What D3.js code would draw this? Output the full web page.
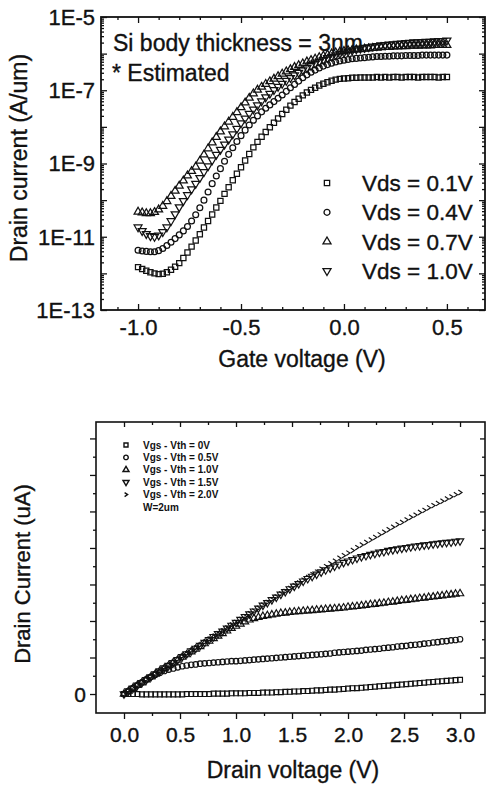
<!DOCTYPE html>
<html>
<head>
<meta charset="utf-8">
<script src="https://cdn.jsdelivr.net/npm/d3@7/dist/d3.min.js"></script>
<style>
  html, body { margin: 0; padding: 0; background: #fff; }
  svg { display: block; }
  text { font-family: "Liberation Sans", Arial, Helvetica, sans-serif; fill: #111; }
  text.heavy { stroke: #111; stroke-width: 0.35px; }
</style>
</head>
<body>
<svg id="chart" width="488" height="788"></svg>
<script>
// ---------------- Data: top panel (Id-Vg, log10 of A/um) ----------------
const gateVoltage = [-1.00,-0.98,-0.96,-0.94,-0.92,-0.90,-0.88,-0.86,-0.84,-0.82,-0.80,-0.78,-0.76,-0.74,-0.72,-0.70,-0.68,-0.66,-0.64,-0.62,-0.60,-0.58,-0.56,-0.54,-0.52,
  -0.50,-0.48,-0.46,-0.44,-0.42,-0.40,-0.38,-0.36,-0.34,-0.32,-0.30,-0.28,-0.26,-0.24,-0.22,-0.20,-0.18,-0.16,-0.14,-0.12,-0.10,-0.08,-0.06,-0.04,-0.02,
  0.00,0.02,0.04,0.06,0.08,0.10,0.12,0.14,0.16,0.18,0.20,0.22,0.24,0.26,0.28,0.30,0.32,0.34,0.36,0.38,0.40,0.42,0.44,0.46,0.48,0.50];

const logIdVds01 = [-11.83,-11.88,-11.93,-11.97,-12.00, -12.02,-12.01,-11.97,-11.90,-11.82, -11.72,-11.58,-11.43,-11.27,-11.10,
  -10.93,-10.75,-10.57,-10.39,-10.20, -10.02,-9.83,-9.65,-9.46,-9.28, -9.10,-8.92,-8.74,-8.56,-8.41, -8.27,-8.14,-8.01,-7.89,-7.77,
  -7.65,-7.53,-7.42,-7.32,-7.23, -7.14,-7.06,-6.99,-6.93,-6.87, -6.82,-6.78,-6.74,-6.71,-6.69, -6.68,-6.67,-6.66,-6.66,-6.65,
  -6.65,-6.65,-6.65,-6.64,-6.65, -6.64,-6.65,-6.64,-6.64,-6.65, -6.64,-6.64,-6.64,-6.65,-6.64, -6.64,-6.64,-6.64,-6.65,-6.64, -6.64];

const logIdVds04 = [-11.37,-11.39,-11.40,-11.41,-11.41, -11.38,-11.32,-11.24,-11.15,-11.05, -10.95,-10.84,-10.72,-10.57,-10.40,
  -10.21,-10.00,-9.78,-9.55,-9.34, -9.14,-8.94,-8.75,-8.57,-8.40, -8.24,-8.09,-7.95,-7.82,-7.70, -7.59,-7.49,-7.40,-7.31,-7.22,
  -7.13,-7.03,-6.93,-6.84,-6.75, -6.66,-6.58,-6.51,-6.45,-6.39, -6.34,-6.30,-6.26,-6.23,-6.20, -6.18,-6.16,-6.14,-6.13,-6.12,
  -6.11,-6.10,-6.09,-6.08,-6.08, -6.07,-6.07,-6.06,-6.06,-6.06, -6.05,-6.05,-6.05,-6.05,-6.04, -6.04,-6.04,-6.04,-6.04,-6.04, -6.04];

const logIdVds07 = [-10.32,-10.34,-10.36,-10.36,-10.33, -10.26,-10.16,-10.03,-9.89,-9.75, -9.61,-9.47,-9.33,-9.21,-9.09,
  -8.93,-8.76,-8.59,-8.43,-8.28, -8.13,-7.99,-7.86,-7.73,-7.60, -7.47,-7.34,-7.21,-7.09,-6.99, -6.91,-6.83,-6.76,-6.69,-6.62,
  -6.55,-6.49,-6.43,-6.37,-6.32, -6.27,-6.22,-6.18,-6.14,-6.10, -6.06,-6.03,-6.00,-5.97,-5.95, -5.93,-5.91,-5.90,-5.89,-5.88,
  -5.87,-5.86,-5.85,-5.84,-5.83, -5.82,-5.82,-5.81,-5.81,-5.80, -5.80,-5.79,-5.79,-5.79,-5.78, -5.78,-5.78,-5.77,-5.77,-5.77, -5.77];

const logIdVds10 = [-10.74,-10.84,-10.92,-10.98,-11.00, -10.96,-10.87,-10.74,-10.57,-10.38, -10.19,-10.02,-9.86,-9.70,-9.55,
  -9.39,-9.23,-9.07,-8.91,-8.76, -8.62,-8.48,-8.34,-8.20,-8.05, -7.90,-7.77,-7.64,-7.52,-7.41, -7.30,-7.19,-7.09,-6.99,-6.90,
  -6.82,-6.74,-6.66,-6.59,-6.52, -6.45,-6.39,-6.33,-6.27,-6.22, -6.17,-6.12,-6.08,-6.04,-6.00, -5.97,-5.94,-5.91,-5.88,-5.86,
  -5.84,-5.82,-5.80,-5.79,-5.77, -5.76,-5.75,-5.74,-5.73,-5.72, -5.71,-5.70,-5.69,-5.69,-5.68, -5.67,-5.67,-5.66,-5.65,-5.65, -5.64];

const topSeriesLabels = ["Vds = 0.1V", "Vds = 0.4V", "Vds = 0.7V", "Vds = 1.0V"];
const topYTickExponents = [-5, -7, -9, -11, -13];
const topXTicks = [-1.0, -0.5, 0.0, 0.5];
const topNote = ["Si body thickness = 3nm", "* Estimated"];

// ---------------- Data: bottom panel (Id-Vd, uA) ----------------
const drainVoltage = [0.00,0.04,0.08,0.12,0.16,0.20,0.24,0.28,0.32,0.36,0.40,0.44,0.48,0.52,0.56,0.60,0.64,0.68,0.72,0.76,
  0.80,0.84,0.88,0.92,0.96,1.00,1.04,1.08,1.12,1.16,1.20,1.24,1.28,1.32,1.36,1.40,1.44,1.48,1.52,1.56,
  1.60,1.64,1.68,1.72,1.76,1.80,1.84,1.88,1.92,1.96,2.00,2.04,2.08,2.12,2.16,2.20,2.24,2.28,2.32,2.36,
  2.40,2.44,2.48,2.52,2.56,2.60,2.64,2.68,2.72,2.76,2.80,2.84,2.88,2.92,2.96,3.00];

const idOv0 = [0.0,0.0,0.0,0.0,-0.1, -0.1,-0.1,-0.1,-0.1,-0.1, -0.1,-0.1,-0.1,-0.1,0.0, 0.0,0.0,0.0,0.0,0.0,
  0.1,0.1,0.1,0.1,0.2, 0.2,0.2,0.2,0.3,0.3, 0.3,0.4,0.4,0.4,0.5, 0.5,0.6,0.6,0.7,0.7, 0.8,0.8,0.9,1.0,1.0,
  1.1,1.2,1.2,1.3,1.4, 1.5,1.6,1.6,1.7,1.8, 1.9,2.0,2.1,2.2,2.3, 2.4,2.5,2.6,2.7,2.8, 2.9,3.0,3.1,3.2,3.3,
  3.4,3.5,3.6,3.7,3.8, 3.9];

const idOv05 = [0.0,0.8,1.6,2.4,3.2, 4.0,4.7,5.3,5.8,6.3, 6.7,7.0,7.3,7.6,7.8, 8.0,8.1,8.3,8.4,8.5,
  8.6,8.7,8.8,8.9,9.0, 9.0,9.1,9.2,9.3,9.4, 9.5,9.6,9.7,9.8,9.9, 10.0,10.1,10.2,10.3,10.4, 10.5,10.6,10.7,10.8,10.9,
  11.0,11.1,11.3,11.4,11.5, 11.6,11.7,11.8,11.9,12.1, 12.2,12.3,12.4,12.6,12.7, 12.8,13.0,13.1,13.2,13.4,
  13.5,13.6,13.8,13.9,14.1, 14.2,14.4,14.5,14.7,14.8, 15.0];

const idOv10 = [0.0,0.8,1.6,2.4,3.1, 3.9,4.7,5.5,6.3,7.0, 7.8,8.6,9.3,10.1,10.8, 11.6,12.3,13.0,13.8,14.5,
  15.2,15.9,16.6,17.3,18.0, 18.6,19.2,19.8,20.3,20.7, 21.0,21.3,21.5,21.7,21.9, 22.1,22.2,22.4,22.5,22.6,
  22.7,22.8,22.9,23.0,23.1, 23.2,23.3,23.4,23.5,23.6, 23.8,23.9,24.0,24.2,24.3, 24.5,24.6,24.8,24.9,25.1,
  25.2,25.4,25.6,25.7,25.9, 26.0,26.2,26.3,26.5,26.6, 26.8,26.9,27.1,27.2,27.4, 27.5];

const idOv15 = [0.0,0.8,1.6,2.4,3.1, 3.9,4.7,5.5,6.3,7.1, 7.8,8.6,9.4,10.2,11.0, 11.8,12.5,13.3,14.1,14.9,
  15.7,16.5,17.2,18.0,18.8, 19.6,20.4,21.2,21.9,22.7, 23.5,24.3,25.0,25.8,26.5, 27.3,28.0,28.8,29.5,30.2,
  30.9,31.6,32.2,32.8,33.4, 34.0,34.5,35.0,35.5,36.0, 36.4,36.8,37.2,37.6,37.9, 38.2,38.5,38.8,39.0,39.3,
  39.5,39.7,39.9,40.1,40.3, 40.5,40.6,40.8,40.9,41.1, 41.2,41.4,41.5,41.6,41.8, 41.9];

const idOv20 = [0.0,0.8,1.6,2.4,3.2, 4.0,4.7,5.5,6.3,7.1, 7.9,8.7,9.5,10.3,11.0, 11.8,12.6,13.4,14.2,15.0,
  15.8,16.5,17.3,18.1,18.9, 19.6,20.4,21.2,22.0,22.7, 23.5,24.3,25.1,25.8,26.6, 27.4,28.1,28.9,29.7,30.4,
  31.2,31.9,32.7,33.4,34.2, 34.9,35.7,36.4,37.2,37.9, 38.6,39.3,40.1,40.8,41.5, 42.2,42.9,43.6,44.3,45.0,
  45.7,46.4,47.0,47.7,48.4, 49.0,49.7,50.3,51.0,51.6, 52.2,52.8,53.4,54.0,54.6, 55.2];

const bottomSeriesLabels = ["Vgs - Vth = 0V", "Vgs - Vth = 0.5V", "Vgs - Vth = 1.0V", "Vgs - Vth = 1.5V", "Vgs - Vth = 2.0V"];
const bottomNote = "W=2um";
const bottomXTicks = [0.0, 0.5, 1.0, 1.5, 2.0, 2.5, 3.0];
const bottomYLabelTicks = [0];

// ---------------- Drawing ----------------
(function () {
const svg = d3.select("#chart");

const symDown = { draw(ctx, size) {
  const s = Math.sqrt(size / (Math.sqrt(3) / 4)); const h = s * Math.sqrt(3) / 2;
  ctx.moveTo(0, h * 2 / 3); ctx.lineTo(s / 2, -h / 3); ctx.lineTo(-s / 2, -h / 3); ctx.closePath(); } };
const symUp = { draw(ctx, size) {
  const s = Math.sqrt(size / (Math.sqrt(3) / 4)); const h = s * Math.sqrt(3) / 2;
  ctx.moveTo(0, -h * 2 / 3); ctx.lineTo(s / 2, h / 3); ctx.lineTo(-s / 2, h / 3); ctx.closePath(); } };
const symChevron = { draw(ctx, size) {
  const r = Math.sqrt(size) / 2;
  ctx.moveTo(-r * 0.7, -r); ctx.lineTo(r * 0.8, 0); ctx.lineTo(-r * 0.7, r); } };
const symbolTypes = [d3.symbolSquare, d3.symbolCircle, symUp, symDown, symChevron];

function drawMarkers(g, xs, ys, xScale, yScale, type, size, sw) {
  const gen = d3.symbol().type(type).size(size);
  g.append("g").selectAll("path").data(xs.map((x, i) => [x, ys[i]])).join("path")
    .attr("d", gen)
    .attr("transform", d => `translate(${xScale(d[0])},${yScale(d[1])})`)
    .attr("fill", "none").attr("stroke", "#111").attr("stroke-width", sw);
}
function styleAxis(g) {
  g.select(".domain").remove();
  g.selectAll("line").attr("stroke", "#111").attr("stroke-width", 1.3);
}

// ===== Top panel =====
const T = { left: 101, right: 485, top: 17, bottom: 310 };
const xTop = d3.scaleLinear().domain([-1.18, 0.685]).range([T.left, T.right]);
const yTop = d3.scaleLog().domain([1e-13, 1e-5]).range([T.bottom, T.top]);
const gTop = svg.append("g");

const topMinorX = d3.range(-11, 7).map(d => d / 10).filter(d => Math.abs(d * 2 - Math.round(d * 2)) > 1e-6);
const decades = d3.range(-13, -4).map(e => Math.pow(10, e));
const logMinor = [];
d3.range(-13, -5).forEach(e => { for (let k = 2; k <= 9; k++) logMinor.push(k * Math.pow(10, e)); });

gTop.append("g").attr("transform", `translate(0,${T.bottom})`)
  .call(d3.axisBottom(xTop).tickValues(topXTicks).tickSize(-6).tickFormat(d => d.toFixed(1)))
  .call(styleAxis)
  .call(g => g.selectAll("text").attr("class", "heavy").attr("y", 25).attr("dy", 0).attr("font-size", 22).attr("fill", "#111"));
gTop.append("g").attr("transform", `translate(0,${T.bottom})`)
  .call(d3.axisBottom(xTop).tickValues(topMinorX).tickSize(-3).tickFormat(""))
  .call(styleAxis);
gTop.append("g").attr("transform", `translate(0,${T.top})`)
  .call(d3.axisTop(xTop).tickValues(topXTicks).tickSize(-6).tickFormat(""))
  .call(styleAxis);
gTop.append("g").attr("transform", `translate(0,${T.top})`)
  .call(d3.axisTop(xTop).tickValues(topMinorX).tickSize(-3).tickFormat(""))
  .call(styleAxis);

gTop.append("g").attr("transform", `translate(${T.left},0)`)
  .call(d3.axisLeft(yTop).tickValues(decades).tickSize(-6)
    .tickFormat(d => { const e = Math.round(Math.log10(d)); return topYTickExponents.includes(e) ? "1E" + e : ""; }))
  .call(styleAxis)
  .call(g => g.selectAll("text").attr("class", "heavy").attr("x", -6).attr("dy", "0.33em").attr("font-size", 22).attr("fill", "#111"));
gTop.append("g").attr("transform", `translate(${T.left},0)`)
  .call(d3.axisLeft(yTop).tickValues(logMinor).tickSize(-3).tickFormat(""))
  .call(styleAxis);
gTop.append("g").attr("transform", `translate(${T.right},0)`)
  .call(d3.axisRight(yTop).tickValues(decades).tickSize(-6).tickFormat(""))
  .call(styleAxis);
gTop.append("g").attr("transform", `translate(${T.right},0)`)
  .call(d3.axisRight(yTop).tickValues(logMinor).tickSize(-3).tickFormat(""))
  .call(styleAxis);

gTop.append("rect").attr("x", T.left).attr("y", T.top).attr("width", T.right - T.left).attr("height", T.bottom - T.top)
  .attr("fill", "none").attr("stroke", "#111").attr("stroke-width", 1.8);

const yTopLog = v => yTop(Math.pow(10, v));
const topSeries = [logIdVds01, logIdVds04, logIdVds07, logIdVds10];
topSeries.forEach((s, i) => drawMarkers(gTop, gateVoltage, s, xTop, yTopLog, symbolTypes[i], 27, 1.25));

gTop.append("text").attr("class", "heavy").attr("x", 113).attr("y", 51).attr("font-size", 23).text(topNote[0]);
gTop.append("text").attr("class", "heavy").attr("x", 112).attr("y", 81).attr("font-size", 23).text(topNote[1]);

topSeriesLabels.forEach((lab, i) => {
  const cy = 183 + i * 29.3;
  gTop.append("path").attr("d", d3.symbol().type(symbolTypes[i]).size(28))
    .attr("transform", `translate(327,${cy})`).attr("fill", "none").attr("stroke", "#111").attr("stroke-width", 1.3);
  gTop.append("text").attr("class", "heavy").attr("x", 362).attr("y", cy + 8).attr("font-size", 22.5).text(lab);
});

gTop.append("text").attr("class", "heavy").attr("x", 302).attr("y", 367).attr("text-anchor", "middle").attr("font-size", 23).text("Gate voltage (V)");
gTop.append("text").attr("class", "heavy").attr("transform", "translate(27,158) rotate(-90)").attr("text-anchor", "middle")
  .attr("font-size", 23).text("Drain current (A/um)");

// ===== Bottom panel =====
const B = { left: 96, right: 485, top: 422, bottom: 713 };
const xBot = d3.scaleLinear().domain([-0.25, 3.223]).range([B.left, B.right]);
const yBot = d3.scaleLinear().domain([-5.2, 74.5]).range([B.bottom, B.top]);
const gBot = svg.append("g");

const botMinorX = [0.25, 0.75, 1.25, 1.75, 2.25, 2.75];
const botMajorY = d3.range(0, 71, 10);
const botMinorY = d3.range(5, 75, 10);

gBot.append("g").attr("transform", `translate(0,${B.bottom})`)
  .call(d3.axisBottom(xBot).tickValues(bottomXTicks).tickSize(6).tickFormat(d => d.toFixed(1)))
  .call(styleAxis)
  .call(g => g.selectAll("text").attr("class", "heavy").attr("y", 29).attr("dy", 0).attr("font-size", 21).attr("fill", "#111"));
gBot.append("g").attr("transform", `translate(0,${B.bottom})`)
  .call(d3.axisBottom(xBot).tickValues(botMinorX).tickSize(3).tickFormat("")).call(styleAxis);
gBot.append("g").attr("transform", `translate(0,${B.top})`)
  .call(d3.axisTop(xBot).tickValues(bottomXTicks).tickSize(-5).tickFormat("")).call(styleAxis);
gBot.append("g").attr("transform", `translate(0,${B.top})`)
  .call(d3.axisTop(xBot).tickValues(botMinorX).tickSize(-3).tickFormat("")).call(styleAxis);

gBot.append("g").attr("transform", `translate(${B.left},0)`)
  .call(d3.axisLeft(yBot).tickValues(botMajorY).tickSize(6).tickFormat(d => bottomYLabelTicks.includes(d) ? String(d) : ""))
  .call(styleAxis)
  .call(g => g.selectAll("text").attr("class", "heavy").attr("x", -10).attr("dy", "0.35em").attr("font-size", 21).attr("fill", "#111"));
gBot.append("g").attr("transform", `translate(${B.left},0)`)
  .call(d3.axisLeft(yBot).tickValues(botMinorY).tickSize(3).tickFormat("")).call(styleAxis);
gBot.append("g").attr("transform", `translate(${B.right},0)`)
  .call(d3.axisRight(yBot).tickValues(botMajorY).tickSize(-5).tickFormat("")).call(styleAxis);
gBot.append("g").attr("transform", `translate(${B.right},0)`)
  .call(d3.axisRight(yBot).tickValues(botMinorY).tickSize(-3).tickFormat("")).call(styleAxis);

gBot.append("rect").attr("x", B.left).attr("y", B.top).attr("width", B.right - B.left).attr("height", B.bottom - B.top)
  .attr("fill", "none").attr("stroke", "#111").attr("stroke-width", 1.6);

const botSeries = [idOv0, idOv05, idOv10, idOv15, idOv20];
botSeries.forEach((s, i) => drawMarkers(gBot, drainVoltage, s, xBot, yBot, symbolTypes[i], 24, 1.15));

bottomSeriesLabels.forEach((lab, i) => {
  const cy = 445 + i * 12.4;
  gBot.append("path").attr("d", d3.symbol().type(symbolTypes[i]).size(16))
    .attr("transform", `translate(126,${cy})`).attr("fill", "none").attr("stroke", "#111").attr("stroke-width", 1.4);
  gBot.append("text").attr("x", 143).attr("y", cy + 3.6).attr("font-size", 10).attr("font-weight", "bold").text(lab);
});
gBot.append("text").attr("x", 143).attr("y", 445 + 5 * 12.4 + 3.6).attr("font-size", 10).attr("font-weight", "bold").text(bottomNote);

gBot.append("text").attr("class", "heavy").attr("x", 293).attr("y", 778).attr("text-anchor", "middle").attr("font-size", 23).text("Drain voltage (V)");
gBot.append("text").attr("class", "heavy").attr("transform", "translate(30,574) rotate(-90)").attr("text-anchor", "middle")
  .attr("font-size", 22).text("Drain Current (uA)");
})();
</script>
</body>
</html>
